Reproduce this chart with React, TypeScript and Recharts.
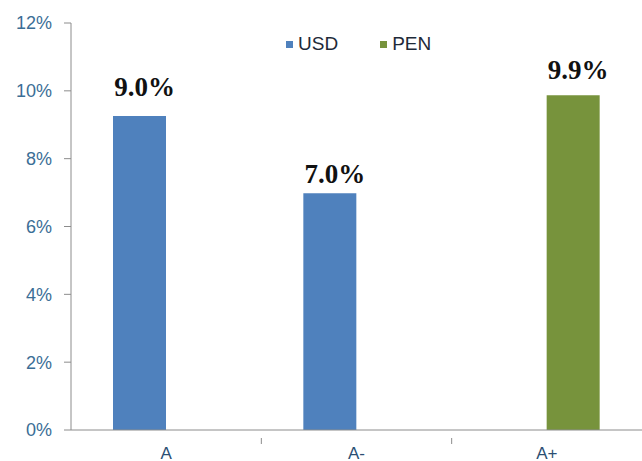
import { BarChart, Bar, XAxis, YAxis, LabelList } from 'recharts'

const categories = ['A', 'A-', 'A+']
const usdValues = [9.26, 6.98, null]
const penValues = [null, null, 9.87]
const usdLabels = ['9.0%', '7.0%', '']
const penLabels = ['', '', '9.9%']
const yTicks = [0, 2, 4, 6, 8, 10, 12]

const WIDTH = 642
const HEIGHT = 461
const Y_AXIS_W = 71
const BLUE = '#4f81bd'
const GREEN = '#77933c'
const AXIS = '#8c8c8c'

// gap between label baseline and bar top, per category (as in the picture)
const labelGap = [20, 10, 16]

const data = categories.map((c, i) => ({
  cat: c,
  usd: usdValues[i],
  pen: penValues[i],
  usdLabel: usdLabels[i],
  penLabel: penLabels[i],
}))

const halfBand = (WIDTH - Y_AXIS_W) / categories.length / 2

function makeLabel(texts: string[]) {
  return (props: any) => {
    const { x, y, width, value } = props
    if (!value) return null
    const i = texts.indexOf(value)
    return (
      <text
        x={x + width / 2 + 5}
        y={y - labelGap[i]}
        textAnchor="middle"
        fontFamily="'Liberation Serif', 'Times New Roman', serif"
        fontWeight="bold"
        fontSize={27}
        fill="#111"
      >
        {value}
      </text>
    )
  }
}

function CatTick(props: any) {
  const { x, y, payload, index } = props
  return (
    <g>
      {index > 0 && <line x1={x - halfBand} x2={x - halfBand} y1={y} y2={y + 6} stroke={AXIS} />}
      <text
        x={x}
        y={y + 21}
        textAnchor="middle"
        fontFamily="'Liberation Sans', Arial, sans-serif"
        fontSize={17}
        fill="#2b4f73"
      >
        {payload.value}
      </text>
    </g>
  )
}

function LegendBox() {
  const items = [
    { name: 'USD', color: BLUE },
    { name: 'PEN', color: GREEN },
  ]
  return (
    <div
      style={{
        position: 'absolute',
        top: 33,
        left: 286,
        display: 'flex',
        gap: 42,
        fontFamily: "'Liberation Sans', Arial, sans-serif",
        fontSize: 19,
        color: '#1e2a38',
      }}
    >
      {items.map((it) => (
        <div key={it.name} style={{ display: 'flex', alignItems: 'center' }}>
          <span style={{ width: 7, height: 7, background: it.color, marginRight: 5, display: 'inline-block' }} />
          {it.name}
        </div>
      ))}
    </div>
  )
}

export default function App() {
  return (
    <div style={{ position: 'absolute', left: 0, top: 0, width: WIDTH, height: HEIGHT, background: '#fff' }}>
      <BarChart
        width={WIDTH}
        height={HEIGHT}
        data={data}
        margin={{ top: 23, right: 0, left: 0, bottom: 0 }}
        barGap={0}
        barSize={53}
      >
        <XAxis
          dataKey="cat"
          height={31}
          stroke={AXIS}
          tickLine={false}
          tick={<CatTick />}
          interval={0}
        />
        <YAxis
          width={Y_AXIS_W}
          domain={[0, 12]}
          ticks={yTicks}
          tickFormatter={(v: number) => `${v}%`}
          stroke={AXIS}
          tickSize={7}
          tickMargin={12}
          tick={{ fill: '#3b6e96', fontSize: 18, fontFamily: "'Liberation Sans', Arial, sans-serif" }}
          interval={0}
        />
        <Bar dataKey="usd" name="USD" fill={BLUE} isAnimationActive={false}>
          <LabelList dataKey="usdLabel" content={makeLabel(usdLabels)} />
        </Bar>
        <Bar dataKey="pen" name="PEN" fill={GREEN} isAnimationActive={false}>
          <LabelList dataKey="penLabel" content={makeLabel(penLabels)} />
        </Bar>
      </BarChart>
      <LegendBox />
    </div>
  )
}
